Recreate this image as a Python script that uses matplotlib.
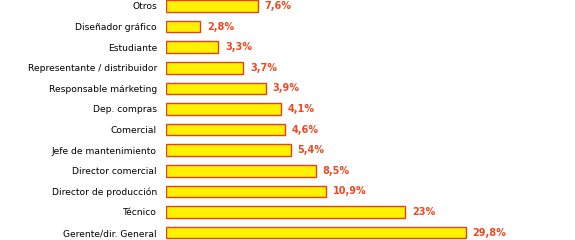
import matplotlib.pyplot as plt

# categorias, de arriba a abajo
categorias = ["Otros", "Diseñador gráfico", "Estudiante", "Representante / distribuidor",
              "Responsable márketing", "Dep. compras", "Comercial", "Jefe de mantenimiento",
              "Director comercial", "Director de producción", "Técnico", "Gerente/dir. General"]
# porcentajes mostrados en las etiquetas
etiquetas = ["7,6%", "2,8%", "3,3%", "3,7%", "3,9%", "4,1%", "4,6%", "5,4%",
             "8,5%", "10,9%", "23%", "29,8%"]
# longitud de barra (misma escala que el 29,8 final)
longitudes = [9.1, 3.4, 5.2, 7.7, 9.9, 11.4, 11.8, 12.4, 14.9, 15.9, 23.8, 29.8]

rojo = "#e6401c"
fig = plt.figure(figsize=(5.75, 2.4), dpi=100)
ax = fig.add_axes([166 / 575, 0, 1 - 166 / 575, 1])
pos = range(len(categorias))
rects = ax.barh(pos, longitudes, height=0.56, color="#fff200", edgecolor=rojo, linewidth=1.0)

for rect, txt in zip(rects, etiquetas):
    ax.annotate(txt, xy=(rect.get_width(), rect.get_y() + rect.get_height() / 2),
                xytext=(5, 0), textcoords="offset points", ha="left", va="center",
                color="#ec4a24", fontsize=7, fontweight="bold")

ax.set_xlim(0, 409 / 10.06)
ax.set_ylim(11.36, -0.29)
ax.set_yticks(list(pos))
ax.set_yticklabels(categorias, fontsize=6.6)
ax.tick_params(axis="y", length=0, pad=6.5)
ax.set_xticks([])
for s in ax.spines.values():
    s.set_visible(False)

plt.savefig("out.png")
